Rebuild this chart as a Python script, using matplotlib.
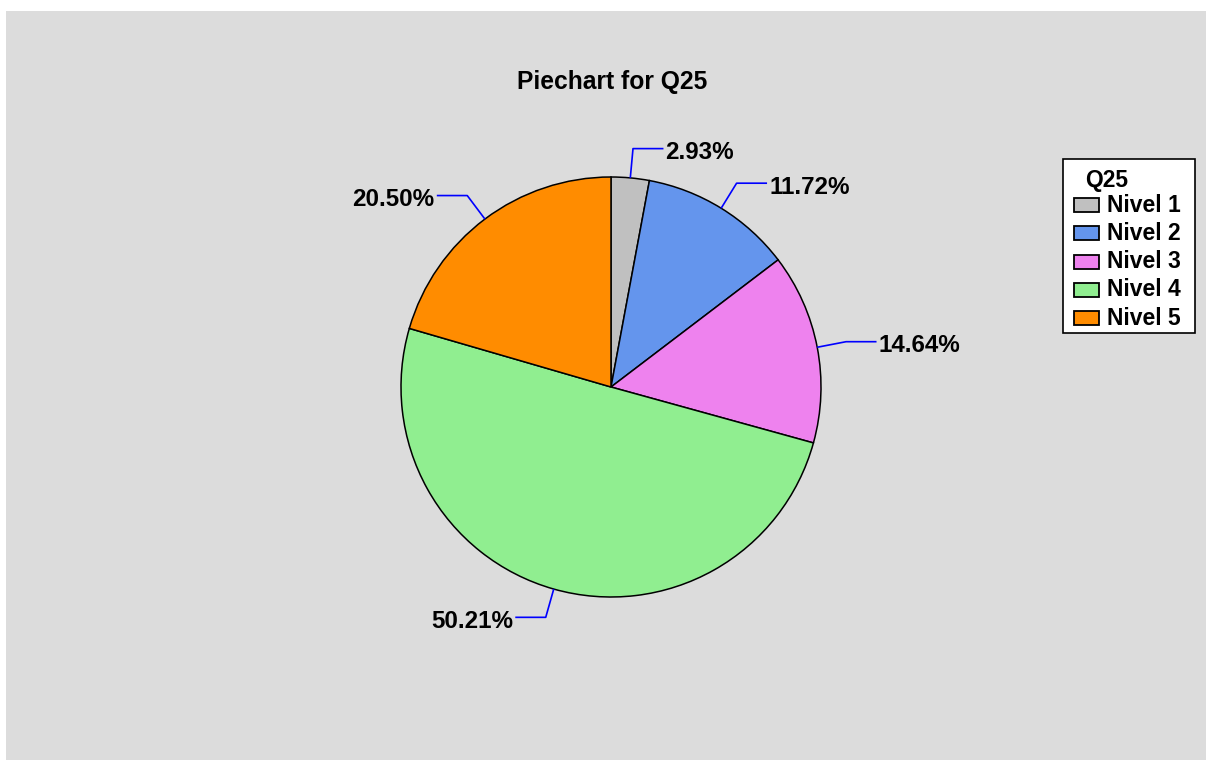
import numpy as np
import matplotlib.pyplot as plt
from matplotlib.patches import Rectangle
from matplotlib.transforms import ScaledTranslation

plt.rcParams['font.family'] = ['Liberation Sans', 'DejaVu Sans']
plt.rcParams['font.weight'] = 'bold'

# share of answers per level for Q25
niveles = ["Nivel 1", "Nivel 2", "Nivel 3", "Nivel 4", "Nivel 5"]
porcentajes = [2.93, 11.72, 14.64, 50.21, 20.50]
colores = ["#c0c0c0", "#6495ed", "#ee82ee", "#90ee90", "#ff8c00"]

W, H = 1206, 760
fig = plt.figure(figsize=(W / 100, H / 100), dpi=100)
fig.patch.set_facecolor("white")


def px(x, y):
    # pixel position (origin top-left) -> figure fraction
    return x / W, 1 - y / H


# grey panel behind everything
fig.patches.append(Rectangle(px(6, 760), 1 - 6 / W, 1 - 11 / H,
                             transform=fig.transFigure, facecolor="#dcdcdc",
                             edgecolor="none", zorder=-5))

cx, cy, R = 611, H - 387, 210
ax = fig.add_axes([(cx - R) / W, (cy - R) / H, 2 * R / W, 2 * R / H])
ax.set_facecolor("none")

wedges, _ = ax.pie(porcentajes, colors=colores, startangle=90, counterclock=False,
                   radius=1.0,
                   wedgeprops=dict(edgecolor="black", linewidth=1.1))
ax.set_xlim(-1, 1)
ax.set_ylim(-1, 1)
ax.set_aspect("equal")
ax.axis("off")

# leader lines and percentage labels
down = ScaledTranslation(0, -10.8 / 100, fig.dpi_scale_trans)
for w, p in zip(wedges, porcentajes):
    ang = np.deg2rad((w.theta1 + w.theta2) / 2)
    x0, y0 = np.cos(ang), np.sin(ang)
    x1, y1 = 1.14 * x0, 1.14 * y0
    s = 1 if x0 >= 0 else -1
    x2 = x1 + s * 0.145
    ax.plot([x0, x1, x2], [y0, y1, y1], color="#0000ff", lw=1.2,
            clip_on=False, solid_capstyle="butt")
    ax.text(x2 + s * 0.01, y1, f"{p:.2f}%", ha="left" if s > 0 else "right",
            va="baseline", fontsize=17.4, fontweight="bold", color="black",
            transform=ax.transData + down)

fig.text(*px(612, 82), "Piechart for Q25", ha="center", va="center",
         fontsize=17.7, fontweight="bold")

# legend box
x_l, x_r, y_t, y_b = 1063, 1195, 159, 333
fig.patches.append(Rectangle(px(x_l, y_b), (x_r - x_l) / W, (y_b - y_t) / H,
                             transform=fig.transFigure, facecolor="white",
                             edgecolor="black", lw=1.2, zorder=3))
fig.text(*px(1085, 181), "Q25", ha="left", va="center", fontsize=16.5,
         fontweight="bold", zorder=4)
for i, (nom, col) in enumerate(zip(niveles, colores)):
    yc = 205 + i * 28.3
    fig.patches.append(Rectangle(px(1074, yc + 7), 25 / W, 14 / H,
                                 transform=fig.transFigure, facecolor=col,
                                 edgecolor="black", lw=1.3, zorder=4))
    fig.text(*px(1107, yc), nom, ha="left", va="center", fontsize=16.5,
             fontweight="bold", zorder=4)

fig.savefig("out.png", dpi=100, facecolor=fig.get_facecolor())
